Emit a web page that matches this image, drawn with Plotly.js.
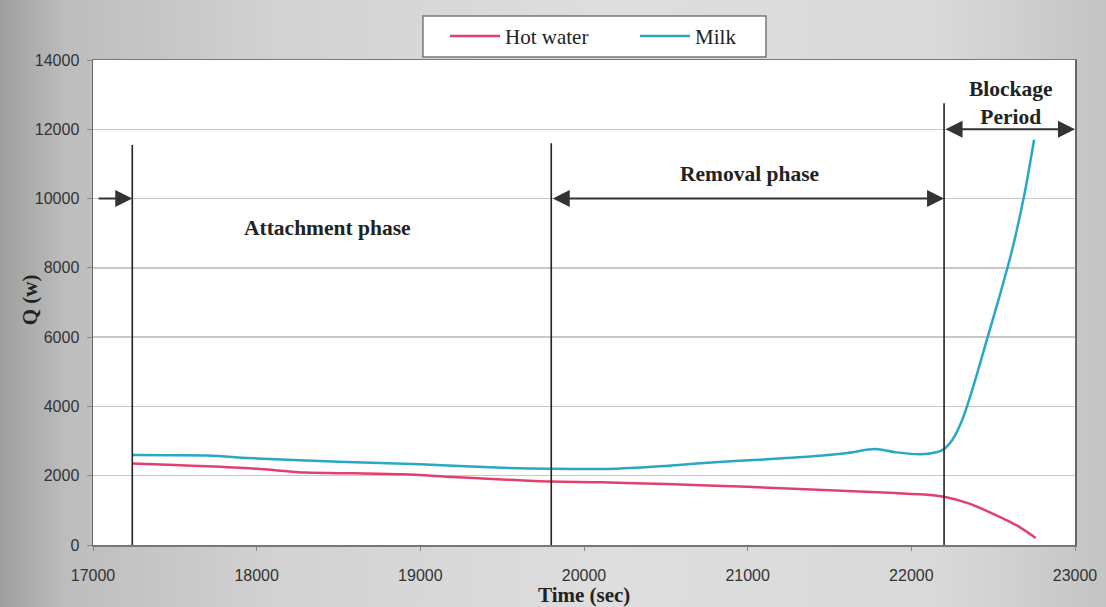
<!DOCTYPE html>
<html>
<head>
<meta charset="utf-8">
<script src="https://cdn.plot.ly/plotly-3.0.1.min.js"></script>
<style>
html,body{margin:0;padding:0;background:#fff;}
#chart{width:1106px;height:607px;
background:linear-gradient(to right,#9e9e9e 0%,#bdbdbd 6%,#d2d2d2 25%,#dedede 55%,#d9d9d9 85%,#c4c4c4 100%);}
</style>
</head>
<body>
<div id="chart"></div>
<script>
// Hot water series (time in s, Q in W)
const hotTime = [17240, 17500, 17700, 18000, 18300, 18600, 18900, 19200, 19500, 19800, 20100, 20500, 21000, 21500, 21900, 22100, 22200, 22350, 22500, 22650, 22760];
const hotQ    = [2350, 2310, 2270, 2200, 2090, 2070, 2040, 1960, 1890, 1830, 1810, 1760, 1680, 1580, 1500, 1450, 1390, 1200, 900, 550, 200];
// Milk series
const milkTime = [17240, 17500, 17700, 18000, 18500, 19000, 19500, 19800, 20200, 20500, 20800, 21100, 21400, 21600, 21780, 21900, 22060, 22190, 22250, 22310, 22380, 22460, 22540, 22615, 22690, 22750];
const milkQ    = [2600, 2590, 2580, 2500, 2400, 2330, 2230, 2200, 2200, 2280, 2390, 2470, 2560, 2650, 2770, 2680, 2620, 2740, 3030, 3600, 4600, 5900, 7200, 8500, 10100, 11700];
// Phase boundaries and labels
const phaseBounds = [17240, 19800, 22200];
const phaseTops = [11550, 11600, 12750];
const arrowLevel = 10000;
const blockageLevel = 12000;
const xMin = 17000, xMax = 23000;
const yTicks = [0, 2000, 4000, 6000, 8000, 10000, 12000, 14000];
const xTicks = [17000, 18000, 19000, 20000, 21000, 22000, 23000];
const phaseLabels = ["Attachment phase", "Removal phase", "Blockage<br>Period"];
const phaseLabelX = [18430, 21010, 22610];
const phaseLabelY = [9150, 10710, 12760];

const serif = "Liberation Serif, Times New Roman, serif";
const sans = "Liberation Sans, Arial, sans-serif";

const traces = [
  {x: hotTime, y: hotQ, name: "Hot water", type: "scatter", mode: "lines",
   line: {color: "#e2406c", width: 2.5, shape: "spline", smoothing: 0.8}},
  {x: milkTime, y: milkQ, name: "Milk", type: "scatter", mode: "lines",
   line: {color: "#28a8c4", width: 2.5, shape: "spline", smoothing: 0.8}}
];

const shapes = phaseBounds.map((b, i) => ({
  type: "line", xref: "x", yref: "y", x0: b, x1: b, y0: 0, y1: phaseTops[i],
  line: {color: "#222", width: 1.6}
}));
// legend frame
shapes.push({type: "rect", xref: "paper", yref: "paper", x0: 0.336, x1: 0.6853, y0: 1.0062, y1: 1.0907,
  fillcolor: "#ffffff", line: {color: "#777", width: 1.5}, layer: "above"});

const arrowStyle = {showarrow: true, arrowhead: 2, arrowsize: 1.7, arrowwidth: 2, arrowcolor: "#333", text: "",
  axref: "x", ayref: "y", xref: "x", yref: "y"};
const annotations = [
  Object.assign({}, arrowStyle, {x: phaseBounds[0], y: arrowLevel, ax: xMin + 25, ay: arrowLevel}),
  Object.assign({}, arrowStyle, {x: phaseBounds[2], y: arrowLevel, ax: phaseBounds[1], ay: arrowLevel, arrowside: "end+start"}),
  Object.assign({}, arrowStyle, {x: xMax, y: blockageLevel, ax: phaseBounds[2], ay: blockageLevel, arrowside: "end+start"}),
];
phaseLabels.forEach((t, i) => annotations.push({
  text: "<b>" + t + "</b>", x: phaseLabelX[i], y: phaseLabelY[i], xref: "x", yref: "y",
  showarrow: false, font: {family: serif, size: 21.5, color: "#222"}
}));
annotations.push({text: "<b>Time (sec)</b>", x: 20000, y: -0.104, xref: "x", yref: "paper",
  xanchor: "center", yanchor: "middle",
  showarrow: false, font: {family: serif, size: 21, color: "#222"}});
annotations.push({text: "<b>Q (w)</b>", x: -0.064, y: 0.505, xref: "paper", yref: "paper", textangle: -90,
  xanchor: "center", yanchor: "middle",
  showarrow: false, font: {family: serif, size: 21, color: "#222"}});

const layout = {
  width: 1106, height: 607,
  margin: {l: 93, r: 31, t: 60, b: 62},
  paper_bgcolor: "rgba(0,0,0,0)",
  plot_bgcolor: "#ffffff",
  showlegend: true,
  legend: {orientation: "h", x: 0.3585, y: 1.091, xanchor: "left", yanchor: "top",
    bgcolor: "rgba(0,0,0,0)", borderwidth: 0,
    font: {family: serif, size: 21, color: "#222"}, entrywidth: 125, itemwidth: 50},
  xaxis: {range: [xMin, xMax], tickvals: xTicks, ticktext: xTicks.map(String), showgrid: false,
    zeroline: false, showline: true, mirror: true, linecolor: "#777", linewidth: 1.5,
    ticks: "outside", ticklen: 4, tickcolor: "#888", ticklabelstandoff: 11,
    tickfont: {family: sans, size: 16, color: "#333"}},
  yaxis: {range: [0, 14000], tickvals: yTicks, ticktext: yTicks.map(String),
    showgrid: true, gridcolor: "#c8c8c8", gridwidth: 1.5,
    zeroline: false, showline: true, mirror: true, linecolor: "#666", linewidth: 1.5,
    ticks: "outside", ticklen: 5, tickcolor: "#888", ticklabelstandoff: 4,
    tickfont: {family: sans, size: 16, color: "#333"}},
  shapes: shapes,
  annotations: annotations
};

Plotly.newPlot("chart", traces, layout, {displayModeBar: false, staticPlot: true});
</script>
</body>
</html>
